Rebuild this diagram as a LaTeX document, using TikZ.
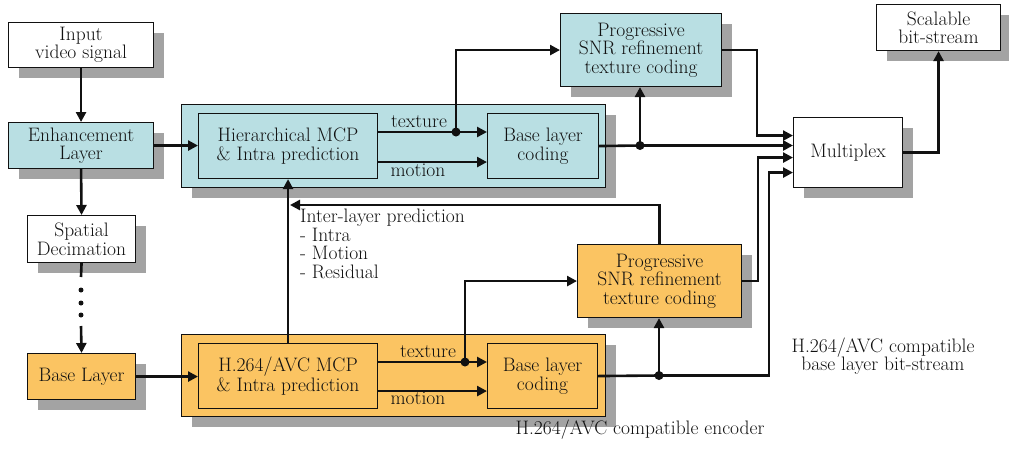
\documentclass[tikz,border=0pt]{standalone}
\usetikzlibrary{arrows.meta,shadows,calc}
\definecolor{enhfill}{HTML}{B9DFE3}
\definecolor{basefill}{HTML}{FBC462}
\definecolor{shadowgray}{HTML}{A3A3A3}
\definecolor{ink}{HTML}{111111}
\tikzset{
  every node/.style={font=\fontsize{19.5}{18.5}\selectfont, text=ink},
  blk/.style={draw=ink, line width=1.1pt, align=center, inner sep=0pt, anchor=north west},
  shd/.style={drop shadow={shadow xshift=10pt, shadow yshift=-10pt, fill=shadowgray, opacity=1}},
  flow/.style={draw=ink, line width=2.6pt, -{Triangle[length=10pt,width=10pt]}},
  link/.style={draw=ink, line width=2.6pt},
  junc/.style={circle, fill=ink, inner sep=0pt, minimum size=9pt},
  tick/.style={circle, fill=ink, inner sep=0pt, minimum size=5pt},
}
\begin{document}
\begin{tikzpicture}[x=1pt, y=-1pt]
\useasboundingbox (0,0) rectangle (1009,450);

% enhancement layer encoder
\node[blk, shd, fill=enhfill, minimum width=424pt, minimum height=83pt] (topc) at (181,104) {};
\node[blk, fill=enhfill, minimum width=179pt, minimum height=65pt] (hmcp) at (198,113) {Hierarchical MCP\\\& Intra prediction};
\node[blk, fill=enhfill, minimum width=111pt, minimum height=65pt] (tblc) at (487,113) {Base layer\\coding};
\node[blk, shd, fill=enhfill, minimum width=161pt, minimum height=73pt] (tprog) at (560,13) {Progressive\\SNR refinement\\texture coding};

% base layer encoder
\node[blk, shd, fill=basefill, minimum width=424pt, minimum height=82pt] (botc) at (181,334) {};
\node[blk, fill=basefill, minimum width=179pt, minimum height=65pt] (hmcp2) at (198,343) {H.264/AVC MCP\\\& Intra prediction};
\node[blk, fill=basefill, minimum width=110pt, minimum height=65pt] (bblc) at (487,343) {Base layer\\coding};
\node[blk, shd, fill=basefill, minimum width=164pt, minimum height=73pt] (bprog) at (577,244) {Progressive\\SNR refinement\\texture coding};

% input side
\node[blk, shd, fill=white, minimum width=145pt, minimum height=45pt] (inp) at (8,22) {Input\\video signal};
\node[blk, shd, fill=enhfill, minimum width=145pt, minimum height=46pt] (enh) at (8,122) {Enhancement\\Layer};
\node[blk, shd, fill=white, minimum width=108pt, minimum height=47pt] (spd) at (27,215) {Spatial\\Decimation};
\node[blk, shd, fill=basefill, minimum width=108pt, minimum height=46pt] (bl) at (27,353) {Base Layer};

% output side
\node[blk, shd, fill=white, minimum width=109pt, minimum height=70pt] (mux) at (793,117) {Multiplex};
\node[blk, shd, fill=white, minimum width=124pt, minimum height=46pt] (scal) at (876,4) {Scalable\\bit-stream};

% input chain
\draw[flow] (inp.south) -- (enh.north);
\draw[flow] (enh.east) -- (enh.east -| hmcp.west);
\draw[flow] (enh.south) -- (spd.north);
\coordinate (d0) at (81,277);
\coordinate (d1) at (81,326);
\draw[link] (spd.south) -- (d0);
\node[tick] (t1) at (81,290) {};
\node[tick] (t2) at (81,303) {};
\node[tick] (t3) at (81,315) {};
\draw[flow] (d1) -- (bl.north);
\draw[flow] (bl.east) -- (bl.east -| hmcp2.west);

% enhancement layer paths
\coordinate (ttex) at (456,132);
\draw[flow] (hmcp.east |- ttex) -- (tblc.west |- ttex);
\draw[flow] ($(hmcp.east)+(0,16)$) -- ($(tblc.west)+(0,16)$);
\draw[flow] (ttex) |- (tprog.west);
\node[junc] at (ttex) {};
\node (ttexl) at (419,122) {texture};
\node (tmotl) at (418,170) {motion};

\coordinate (m1) at ($(mux.west)+(0,-17)$);
\coordinate (m3) at ($(mux.west)+(0,5)$);
\coordinate (m4) at ($(mux.west)+(0,20)$);

\coordinate (tout) at (640,145.5);
\draw[link] (tblc.east) -- (tout);
\draw[flow] (tout) -- (tout -| mux.west);
\draw[flow] (tout) -- (tout |- tprog.south);
\node[junc] at (tout) {};
\draw[flow] (tprog.east) -| ($(m1)+(-36,0)$) -- (m1);

% base layer paths
\coordinate (btex) at (465,362);
\draw[flow] (hmcp2.east |- btex) -- (bblc.west |- btex);
\draw[flow] ($(hmcp2.east)+(0,15)$) -- ($(bblc.west)+(0,15)$);
\draw[flow] (btex) |- (bprog.west);
\node[junc] at (btex) {};
\node (btexl) at (428,352) {texture};
\node (bmotl) at (418,398) {motion};

\coordinate (bout) at (659,375.5);
\draw[link] (bblc.east) -- (bout);
\draw[flow] (bout) -- (bout |- bprog.south);
\draw[flow] (bout) -| ($(m4)+(-24,0)$) -- (m4);
\node[junc] at (bout) {};
\draw[flow] (bprog.east) -| ($(m3)+(-35,0)$) -- (m3);

% inter-layer prediction
\draw[flow] (hmcp2.north) -- (hmcp.south);
\coordinate (ilend) at (290,205);
\draw[flow] (bprog.north) |- (ilend);
\node[anchor=north west, align=left, inner sep=0pt] (ilp) at (300,209) {Inter-layer prediction\\- Intra\\- Motion\\- Residual};

% multiplexed output
\draw[flow] (mux.east) -| (scal.south);

% captions
\node (enc) at (640,430) {H.264/AVC compatible encoder};
\node[align=center] (bbs) at (883,356) {H.264/AVC compatible\\base layer bit-stream};
\end{tikzpicture}
\end{document}
